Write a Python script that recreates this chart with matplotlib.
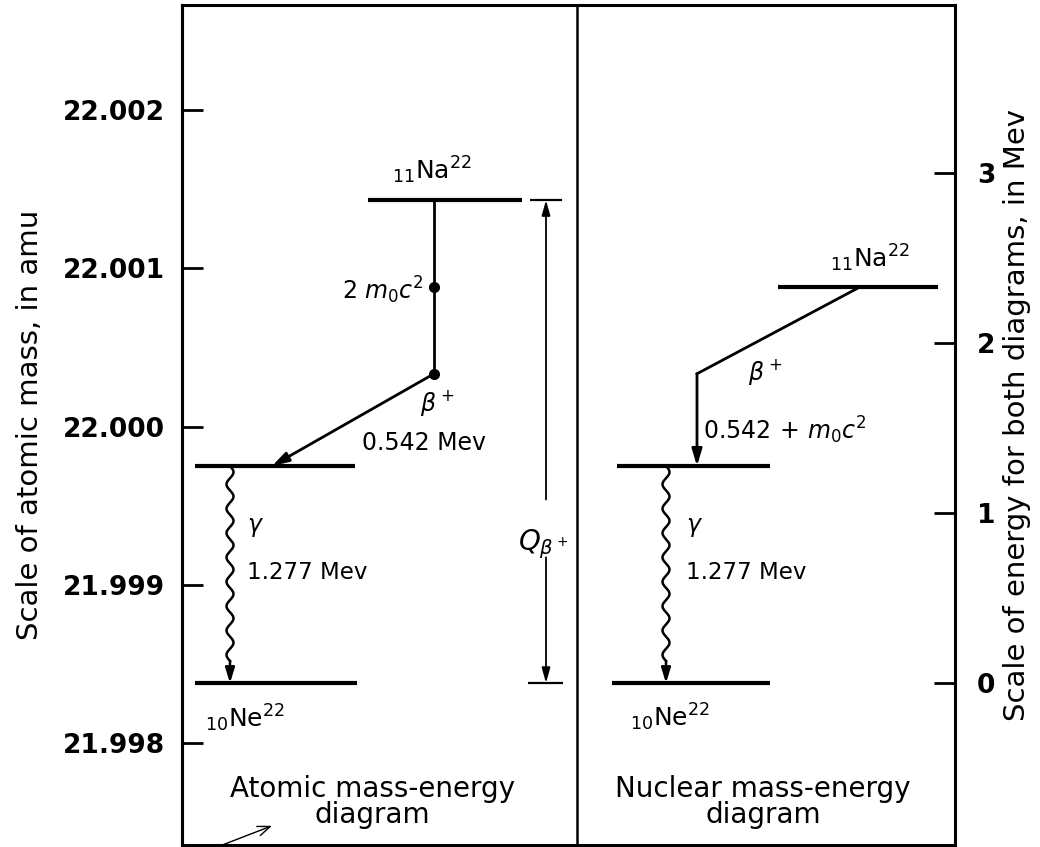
import numpy as np
import matplotlib
matplotlib.use("Agg")
import matplotlib.pyplot as plt

# ---- data (MeV unless noted) ----
Q_beta = 2.842            # Na22 atomic level above Ne22 ground
gamma_energy = 1.277      # Ne22 excited state
beta_energy = 0.542       # beta+ kinetic energy
m0c2 = 0.511              # electron rest energy
amu_ticks = [21.998, 21.999, 22.000, 22.001, 22.002]
amu_tick_labels = ["21.998", "21.999", "22.000", "22.001", "22.002"]
mev_ticks = [0, 1, 2, 3]
amu_offset = 21.99838     # atomic mass of Ne22 (amu) at 0 MeV
mev_per_amu = 931.5

na_nuclear = Q_beta - m0c2
knee = Q_beta - 2 * m0c2

plt.rcParams['font.family'] = ['DejaVu Sans']
plt.rcParams['mathtext.fontset'] = 'dejavusans'

fig = plt.figure(figsize=(10.4, 8.47), dpi=100)
ax = fig.add_axes([182/1040, 2/847, (955-182)/1040, (845-5)/847])
ax.set_xlim(182, 955)
ax.set_ylim(-0.953, 3.99)
for s in ax.spines.values():
    s.set_linewidth(2.2)
ax.set_xticks([])

# right axis: energy
ax.yaxis.tick_right()
ax.set_yticks(mev_ticks)
ax.set_yticklabels([str(t) for t in mev_ticks], fontweight='bold')
ax.tick_params(axis='y', direction='in', length=15, width=2, pad=16, labelsize=19)
ax.yaxis.set_label_position('right')
ax.set_ylabel("Scale of energy for both diagrams, in Mev", fontsize=21)
ax.yaxis.set_label_coords(1.062, 0.512)

# left axis: atomic mass
sec = ax.secondary_yaxis('left', functions=(lambda e: amu_offset + e / mev_per_amu,
                                            lambda m: (m - amu_offset) * mev_per_amu))
sec.set_yticks(amu_ticks)
sec.set_yticklabels(amu_tick_labels, fontweight='bold')
sec.tick_params(direction='in', length=15, width=2, pad=12, labelsize=19)
sec.spines['left'].set_linewidth(2.2)
sec.set_ylabel("Scale of atomic mass, in amu", fontsize=21, labelpad=14)

# middle divider
ax.axvline(577, color='black', lw=1.8)

lw_level = 3.0
lw_line = 2.0
fs = 17

def wavy(x0, y_top, y_bot, amp=3.5, cycles=8, head=0.13):
    y_end = y_bot + head
    y = np.linspace(y_top, y_end, 400)
    x = x0 + amp * np.sin(2 * np.pi * cycles * (y - y_top) / (y_end - y_top))
    ax.plot(x, y, color='black', lw=1.8)
    ax.annotate("", xy=(x0, y_bot), xytext=(x0, y_end),
                arrowprops=dict(arrowstyle='-|>,head_length=0.9,head_width=0.28',
                                color='black', lw=1.8, shrinkA=0, shrinkB=0))

# ---------- Atomic diagram ----------
ax.hlines(Q_beta, 368, 522, color='black', lw=lw_level)
ax.hlines(gamma_energy, 195, 355, color='black', lw=lw_level)
ax.hlines(0, 195, 357, color='black', lw=lw_level)
ax.plot([434, 434], [Q_beta, knee], color='black', lw=lw_line)
ax.plot([434, 434], [Q_beta - m0c2, knee], 'o', color='black', ms=7)
ax.annotate("", xy=(272, gamma_energy), xytext=(434, knee),
            arrowprops=dict(arrowstyle='-|>,head_length=1.0,head_width=0.3',
                            color='black', lw=lw_line, shrinkA=0, shrinkB=0))
wavy(230, gamma_energy, 0)

ax.text(432, 3.02, r"$_{11}$Na$^{22}$", fontsize=18, ha='center', va='center')
ax.text(424, 2.31, r"2 $m_0c^2$", fontsize=fs, ha='right', va='center')
ax.text(437, 1.65, r"$\beta^+$", fontsize=fs, ha='center', va='center')
ax.text(362, 1.41, "0.542 Mev", fontsize=fs, ha='left', va='center')
ax.text(247, 0.92, r"$\gamma$", fontsize=fs, ha='left', va='center')
ax.text(247, 0.65, "1.277 Mev", fontsize=16.5, ha='left', va='center')
ax.text(205, -0.21, r"$_{10}$Ne$^{22}$", fontsize=18, ha='left', va='center')
ax.text(372, -0.70, "Atomic mass-energy\ndiagram", fontsize=20, ha='center',
        va='center', linespacing=0.95)

# Q arrow
ax.hlines([Q_beta, 0], [530, 528], [562, 563], color='black', lw=1.6)
for y0, y1 in [(1.08, Q_beta), (0.74, 0)]:
    ax.annotate("", xy=(546, y1), xytext=(546, y0),
                arrowprops=dict(arrowstyle='-|>,head_length=0.9,head_width=0.25',
                                color='black', lw=1.3, shrinkA=0, shrinkB=0))
ax.text(543, 0.82, r"$Q_{\beta^+}$", fontsize=20, ha='center', va='center')

# ---------- Nuclear diagram ----------
ax.hlines(na_nuclear, 778, 938, color='black', lw=lw_level)
ax.hlines(gamma_energy, 617, 770, color='black', lw=lw_level)
ax.hlines(0, 612, 770, color='black', lw=lw_level)
ax.plot([860, 697], [na_nuclear, knee], color='black', lw=lw_line)
ax.annotate("", xy=(697, gamma_energy), xytext=(697, knee),
            arrowprops=dict(arrowstyle='-|>,head_length=1.0,head_width=0.3',
                            color='black', lw=lw_line, shrinkA=0, shrinkB=0))
wavy(666, gamma_energy, 0)

ax.text(870, 2.50, r"$_{11}$Na$^{22}$", fontsize=18, ha='center', va='center')
ax.text(765, 1.83, r"$\beta^+$", fontsize=fs, ha='center', va='center')
ax.text(703, 1.49, r"0.542$\,+\,m_0c^2$", fontsize=fs, ha='left', va='center')
ax.text(686, 0.92, r"$\gamma$", fontsize=fs, ha='left', va='center')
ax.text(686, 0.65, "1.277 Mev", fontsize=16.5, ha='left', va='center')
ax.text(630, -0.20, r"$_{10}$Ne$^{22}$", fontsize=18, ha='left', va='center')
ax.text(763, -0.70, "Nuclear mass-energy\ndiagram", fontsize=20, ha='center',
        va='center', linespacing=0.95)

# small pointer arrow at bottom left
ax.annotate("", xy=(272, -0.84), xytext=(217, -0.965),
            arrowprops=dict(arrowstyle='->,head_length=0.9,head_width=0.35',
                            color='black', lw=1.0, shrinkA=0, shrinkB=0),
            annotation_clip=False)

fig.savefig("out.png", dpi=100)
